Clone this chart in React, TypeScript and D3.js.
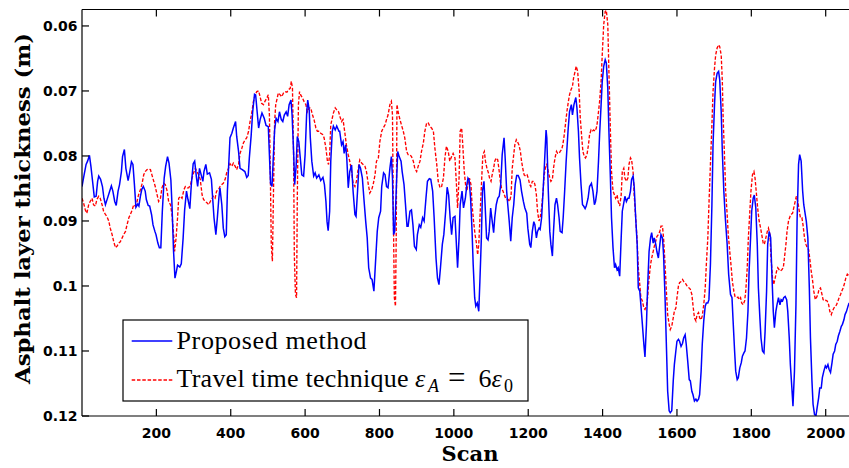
import React from 'react';
import * as d3 from 'd3';

const xTicks = [200, 400, 600, 800, 1000, 1200, 1400, 1600, 1800, 2000];
const yTicks = [0.06, 0.07, 0.08, 0.09, 0.1, 0.11, 0.12];
const yTickLabels = ['0.06', '0.07', '0.08', '0.09', '0.1', '0.11', '0.12'];
const seriesNames = ['Proposed method', 'Travel time technique'];

// [scan, thickness (m)]
const proposed: [number, number][] = [
[0,.0847],[5,.0831],[11,.0813],[15,.0808],[20,.0799],[24,.0816],[29,.0842],[33,.0863],[38,.0862],[42,.0839],[45,.0831],[50,.0836],[55,.0847],[59,.0865],[63,.0875],[68,.0866],[74,.0855],[79,.0846],[83,.0854],[88,.0870],[92,.0876],[97,.0854],[101,.0844],[106,.0824],[109,.0801],[114,.0790],[118,.0819],[124,.0838],[128,.0826],[133,.0809],[137,.0813],[141,.0844],[145,.0879],[150,.0874],[153,.0877],[157,.0862],[161,.0851],[165,.0847],[170,.0854],[173,.0867],[178,.0876],[182,.0877],[187,.0890],[191,.0906],[196,.0916],[199,.0921],[204,.0934],[208,.0941],[212,.0941],[216,.0885],[221,.0834],[225,.0816],[230,.0801],[234,.0811],[239,.0837],[242,.0875],[246,.0944],[250,.0988],[254,.0977],[257,.0968],[263,.0971],[267,.0966],[272,.0926],[276,.0883],[281,.0854],[285,.0867],[290,.0881],[294,.0844],[299,.0812],[303,.0808],[308,.0834],[311,.0847],[316,.0819],[320,.0828],[325,.0839],[328,.0824],[333,.0813],[337,.0828],[343,.0826],[348,.0836],[352,.0870],[355,.0895],[360,.0921],[364,.0895],[368,.0865],[371,.0849],[376,.0875],[380,.0911],[384,.0924],[388,.0921],[391,.0854],[395,.0808],[398,.0772],[403,.0765],[407,.0757],[413,.0747],[416,.0770],[421,.0793],[425,.0819],[431,.0821],[438,.0824],[443,.0833],[447,.0830],[450,.0803],[455,.0768],[459,.0732],[464,.0705],[467,.0706],[471,.0732],[475,.0757],[479,.0744],[484,.0734],[490,.0742],[495,.0753],[501,.0755],[504,.0798],[507,.0842],[511,.0847],[514,.0808],[518,.0760],[522,.0742],[527,.0747],[531,.0732],[536,.0744],[540,.0747],[544,.0737],[549,.0732],[553,.0739],[557,.0721],[562,.0714],[565,.0737],[569,.0793],[572,.0844],[576,.0814],[579,.0770],[583,.0778],[587,.0803],[591,.0829],[596,.0831],[600,.0798],[604,.0737],[607,.0714],[611,.0729],[614,.0772],[618,.0808],[623,.0831],[627,.0826],[631,.0834],[637,.0829],[642,.0838],[648,.0833],[652,.0844],[656,.0870],[659,.0901],[662,.0915],[666,.0885],[669,.0808],[673,.0762],[676,.0754],[681,.0760],[685,.0754],[691,.0762],[693,.0762],[698,.0783],[702,.0778],[705,.0796],[709,.0783],[712,.0803],[716,.0849],[720,.0824],[725,.0814],[729,.0854],[734,.0890],[737,.0893],[741,.0854],[745,.0813],[749,.0819],[754,.0834],[758,.0865],[763,.0901],[767,.0926],[771,.0972],[776,.0988],[780,.0990],[785,.1008],[789,.0967],[794,.0916],[798,.0895],[803,.0885],[806,.0847],[811,.0826],[815,.0829],[819,.0847],[823,.0849],[828,.0819],[832,.0801],[835,.0834],[838,.0921],[841,.0916],[845,.0854],[849,.0793],[853,.0801],[858,.0808],[861,.0824],[866,.0844],[870,.0875],[874,.0908],[877,.0908],[882,.0885],[886,.0883],[890,.0906],[894,.0939],[899,.0944],[902,.0921],[907,.0906],[911,.0910],[916,.0895],[920,.0900],[925,.0865],[929,.0839],[934,.0835],[938,.0836],[943,.0854],[947,.0895],[952,.0957],[956,.0988],[960,.0998],[964,.0972],[969,.0936],[973,.0921],[978,.0885],[982,.0848],[986,.0860],[990,.0895],[994,.0921],[998,.0895],[1003,.0893],[1006,.0926],[1010,.0972],[1014,.0926],[1017,.0875],[1022,.0854],[1026,.0880],[1031,.0865],[1035,.0844],[1038,.0834],[1041,.0837],[1045,.0865],[1049,.0916],[1052,.0967],[1056,.1018],[1059,.1031],[1063,.1026],[1067,.1039],[1070,.0993],[1074,.0926],[1077,.0854],[1081,.0839],[1084,.0875],[1088,.0926],[1092,.0929],[1095,.0916],[1099,.0880],[1102,.0895],[1107,.0918],[1110,.0895],[1114,.0875],[1118,.0865],[1122,.0862],[1126,.0844],[1130,.0798],[1135,.0772],[1138,.0803],[1142,.0854],[1145,.0875],[1149,.0901],[1153,.0931],[1157,.0895],[1161,.0875],[1165,.0844],[1169,.0830],[1173,.0830],[1178,.0837],[1182,.0854],[1187,.0870],[1191,.0880],[1196,.0888],[1199,.0911],[1204,.0936],[1207,.0941],[1211,.0916],[1215,.0901],[1218,.0906],[1222,.0926],[1225,.0916],[1229,.0911],[1232,.0913],[1236,.0895],[1240,.0854],[1244,.0808],[1248,.0760],[1250,.0772],[1254,.0854],[1258,.0916],[1261,.0936],[1265,.0954],[1268,.0916],[1272,.0875],[1276,.0865],[1279,.0875],[1283,.0895],[1286,.0916],[1291,.0918],[1294,.0895],[1298,.0854],[1302,.0808],[1307,.0762],[1311,.0732],[1316,.0721],[1319,.0737],[1323,.0721],[1328,.0710],[1331,.0726],[1335,.0762],[1338,.0803],[1342,.0844],[1346,.0875],[1349,.0877],[1353,.0881],[1356,.0877],[1361,.0865],[1365,.0847],[1370,.0842],[1374,.0854],[1378,.0875],[1381,.0870],[1385,.0854],[1389,.0808],[1392,.0767],[1396,.0721],[1399,.0686],[1403,.0662],[1407,.0652],[1410,.0657],[1414,.0696],[1417,.0762],[1421,.0834],[1424,.0895],[1428,.0941],[1432,.0972],[1435,.0967],[1439,.0975],[1442,.0972],[1446,.0985],[1450,.0926],[1453,.0885],[1457,.0872],[1460,.0862],[1464,.0870],[1468,.0865],[1471,.0865],[1475,.0854],[1478,.0836],[1482,.0831],[1485,.0847],[1489,.0895],[1493,.0936],[1496,.1003],[1500,.1008],[1503,.1029],[1507,.1059],[1511,.1090],[1514,.1109],[1518,.1059],[1521,.1003],[1525,.0947],[1529,.0926],[1532,.0918],[1536,.0934],[1539,.0926],[1543,.0936],[1546,.0947],[1550,.0957],[1554,.0936],[1557,.0921],[1561,.0926],[1564,.0952],[1568,.1018],[1572,.1100],[1575,.1162],[1579,.1192],[1582,.1195],[1586,.1192],[1590,.1146],[1593,.1121],[1597,.1100],[1600,.1085],[1604,.1082],[1607,.1085],[1611,.1093],[1615,.1088],[1618,.1080],[1622,.1075],[1625,.1090],[1629,.1116],[1633,.1144],[1636,.1146],[1640,.1162],[1643,.1167],[1647,.1177],[1651,.1174],[1654,.1177],[1658,.1174],[1661,.1167],[1665,.1131],[1668,.1090],[1672,.1054],[1676,.1031],[1679,.1026],[1683,.1026],[1686,.1021],[1690,.0967],[1694,.0875],[1697,.0783],[1701,.0721],[1704,.0686],[1708,.0673],[1712,.0670],[1715,.0683],[1719,.0732],[1722,.0793],[1726,.0854],[1730,.0895],[1735,.0936],[1739,.0982],[1744,.1013],[1748,.1018],[1751,.1054],[1755,.1100],[1758,.1131],[1762,.1144],[1765,.1141],[1769,.1126],[1773,.1118],[1776,.1108],[1780,.1103],[1783,.1100],[1787,.1080],[1791,.1039],[1794,.0977],[1798,.0926],[1801,.0885],[1805,.0865],[1808,.0860],[1812,.0880],[1816,.0936],[1819,.1003],[1823,.1049],[1826,.1080],[1830,.1100],[1834,.1103],[1837,.1070],[1841,.1008],[1844,.0936],[1848,.0916],[1852,.0926],[1855,.0977],[1859,.1039],[1862,.1064],[1866,.1039],[1869,.1029],[1873,.1018],[1877,.1029],[1880,.1021],[1884,.1023],[1887,.1018],[1891,.1016],[1895,.1021],[1898,.1039],[1902,.1080],[1905,.1121],[1909,.1157],[1912,.1185],[1916,.1131],[1920,.1029],[1923,.0901],[1927,.0813],[1930,.0798],[1934,.0808],[1938,.0854],[1941,.0875],[1945,.0890],[1948,.0901],[1952,.0926],[1956,.1003],[1959,.1080],[1963,.1146],[1966,.1182],[1970,.1198],[1974,.1199],[1977,.1187],[1981,.1172],[1984,.1157],[1988,.1157],[1991,.1141],[1995,.1131],[1999,.1123],[2002,.1126],[2006,.1121],[2009,.1128],[2013,.1133],[2017,.1118],[2020,.1105],[2024,.1100],[2027,.1090],[2031,.1085],[2034,.1077],[2038,.1070],[2042,.1062],[2045,.1059],[2049,.1052],[2052,.1044],[2056,.1039],[2060,.1031],[2063,.1026]
];

const travelTime: [number, number][] = [
[0,.0865],[4,.0872],[9,.0883],[13,.0888],[18,.0875],[22,.0870],[27,.0865],[31,.0875],[36,.0877],[40,.0867],[45,.0862],[49,.0865],[54,.0875],[58,.0885],[63,.0890],[67,.0893],[72,.0900],[76,.0911],[81,.0921],[85,.0931],[90,.0941],[94,.0939],[99,.0934],[103,.0932],[108,.0926],[112,.0921],[117,.0916],[121,.0906],[126,.0895],[130,.0890],[135,.0883],[139,.0875],[143,.0877],[148,.0870],[152,.0860],[157,.0852],[161,.0844],[166,.0829],[170,.0824],[175,.0821],[179,.0820],[184,.0821],[188,.0829],[193,.0839],[197,.0847],[202,.0860],[206,.0870],[211,.0865],[215,.0849],[220,.0842],[224,.0844],[229,.0854],[233,.0870],[238,.0875],[242,.0890],[247,.0926],[249,.0947],[253,.0926],[257,.0895],[260,.0865],[265,.0862],[269,.0865],[274,.0852],[278,.0847],[283,.0849],[287,.0849],[292,.0844],[296,.0834],[300,.0826],[305,.0819],[309,.0824],[314,.0829],[318,.0836],[323,.0860],[327,.0867],[332,.0870],[336,.0872],[341,.0875],[345,.0870],[350,.0865],[353,.0862],[358,.0865],[362,.0854],[367,.0852],[371,.0847],[376,.0844],[380,.0842],[385,.0836],[389,.0826],[394,.0819],[398,.0812],[403,.0816],[407,.0811],[412,.0816],[416,.0821],[421,.0813],[425,.0796],[430,.0788],[434,.0780],[439,.0775],[443,.0772],[448,.0762],[452,.0747],[457,.0732],[461,.0716],[466,.0706],[470,.0701],[475,.0700],[479,.0709],[483,.0719],[488,.0721],[492,.0716],[497,.0711],[501,.0706],[504,.0737],[507,.0849],[509,.0936],[512,.0962],[515,.0854],[518,.0747],[521,.0721],[525,.0711],[528,.0703],[533,.0706],[537,.0709],[542,.0703],[546,.0701],[551,.0702],[555,.0698],[560,.0696],[563,.0685],[566,.0696],[569,.0798],[571,.0952],[574,.1013],[577,.1018],[579,.0865],[582,.0721],[585,.0701],[588,.0706],[593,.0711],[597,.0716],[602,.0721],[606,.0732],[611,.0726],[615,.0726],[620,.0737],[624,.0744],[629,.0757],[633,.0762],[638,.0762],[642,.0765],[647,.0767],[651,.0772],[656,.0788],[660,.0808],[663,.0813],[666,.0798],[669,.0752],[673,.0742],[676,.0734],[681,.0726],[685,.0729],[690,.0732],[694,.0740],[698,.0747],[702,.0744],[707,.0765],[711,.0783],[716,.0798],[720,.0808],[725,.0824],[729,.0842],[734,.0847],[738,.0839],[743,.0819],[747,.0806],[752,.0811],[756,.0813],[761,.0816],[765,.0824],[770,.0844],[774,.0857],[779,.0852],[783,.0844],[788,.0829],[792,.0808],[797,.0803],[801,.0778],[806,.0762],[810,.0757],[815,.0752],[819,.0744],[823,.0737],[828,.0721],[832,.0716],[835,.0737],[837,.0875],[840,.1018],[843,.1031],[845,.0926],[847,.0721],[850,.0732],[855,.0744],[859,.0752],[864,.0762],[868,.0772],[873,.0793],[877,.0798],[882,.0798],[886,.0801],[891,.0808],[895,.0819],[900,.0824],[904,.0816],[909,.0808],[913,.0793],[918,.0780],[922,.0762],[927,.0749],[931,.0749],[936,.0755],[940,.0757],[945,.0762],[949,.0788],[954,.0813],[958,.0839],[963,.0849],[967,.0847],[972,.0834],[976,.0803],[980,.0785],[985,.0793],[989,.0808],[994,.0801],[998,.0796],[1003,.0803],[1007,.0844],[1010,.0880],[1014,.0834],[1017,.0762],[1021,.0757],[1024,.0783],[1028,.0824],[1032,.0847],[1035,.0854],[1038,.0842],[1042,.0834],[1046,.0844],[1049,.0875],[1053,.0900],[1057,.0921],[1060,.0931],[1064,.0952],[1067,.0936],[1071,.0885],[1075,.0834],[1078,.0798],[1082,.0793],[1085,.0808],[1089,.0819],[1093,.0826],[1096,.0834],[1100,.0839],[1103,.0829],[1107,.0819],[1110,.0808],[1114,.0803],[1118,.0806],[1121,.0819],[1125,.0839],[1128,.0849],[1132,.0854],[1136,.0860],[1139,.0865],[1143,.0867],[1146,.0867],[1150,.0870],[1154,.0860],[1157,.0819],[1161,.0798],[1164,.0783],[1168,.0775],[1171,.0778],[1175,.0783],[1179,.0793],[1182,.0808],[1186,.0821],[1189,.0829],[1193,.0831],[1197,.0829],[1200,.0834],[1204,.0844],[1207,.0847],[1211,.0839],[1215,.0839],[1218,.0844],[1222,.0860],[1225,.0885],[1229,.0900],[1232,.0895],[1236,.0880],[1240,.0854],[1243,.0829],[1247,.0816],[1250,.0813],[1254,.0824],[1258,.0834],[1261,.0839],[1265,.0836],[1268,.0819],[1272,.0803],[1276,.0793],[1279,.0796],[1283,.0796],[1286,.0793],[1290,.0790],[1293,.0783],[1297,.0767],[1301,.0747],[1304,.0732],[1308,.0716],[1311,.0706],[1315,.0698],[1319,.0693],[1322,.0680],[1326,.0670],[1329,.0662],[1333,.0670],[1337,.0701],[1340,.0742],[1344,.0772],[1347,.0793],[1351,.0801],[1354,.0803],[1358,.0798],[1362,.0783],[1365,.0767],[1369,.0760],[1372,.0762],[1376,.0760],[1380,.0762],[1383,.0757],[1385,.0752],[1389,.0732],[1392,.0716],[1396,.0685],[1399,.0645],[1403,.0598],[1407,.0578],[1410,.0576],[1414,.0598],[1417,.0670],[1421,.0762],[1424,.0824],[1428,.0854],[1432,.0860],[1435,.0865],[1439,.0860],[1442,.0870],[1446,.0877],[1450,.0860],[1453,.0824],[1457,.0819],[1460,.0834],[1464,.0839],[1468,.0834],[1471,.0813],[1475,.0803],[1478,.0806],[1482,.0824],[1485,.0860],[1489,.0895],[1493,.0931],[1496,.0972],[1500,.0998],[1503,.1018],[1507,.1023],[1511,.1034],[1514,.1036],[1518,.1031],[1521,.1018],[1525,.0988],[1529,.0967],[1532,.0957],[1536,.0947],[1539,.0939],[1543,.0931],[1546,.0924],[1550,.0921],[1554,.0916],[1557,.0908],[1561,.0908],[1564,.0926],[1568,.0967],[1572,.1013],[1575,.1044],[1579,.1059],[1582,.1067],[1586,.1062],[1590,.1049],[1593,.1039],[1597,.1034],[1600,.1018],[1604,.1000],[1607,.0995],[1611,.0993],[1615,.0990],[1618,.0993],[1622,.0995],[1625,.0998],[1629,.1002],[1633,.1003],[1636,.1005],[1640,.1013],[1643,.1029],[1647,.1049],[1651,.1054],[1654,.1044],[1658,.1041],[1661,.1049],[1665,.1052],[1668,.1046],[1672,.1029],[1676,.1003],[1679,.0967],[1683,.0926],[1686,.0875],[1690,.0813],[1694,.0752],[1697,.0701],[1701,.0665],[1704,.0645],[1708,.0634],[1712,.0629],[1715,.0632],[1719,.0645],[1722,.0685],[1724,.0737],[1728,.0803],[1731,.0854],[1735,.0890],[1738,.0921],[1742,.0947],[1746,.0972],[1749,.0993],[1753,.1008],[1756,.1016],[1760,.1018],[1764,.1017],[1767,.1021],[1771,.1018],[1774,.1026],[1778,.1029],[1782,.1023],[1785,.1008],[1789,.0972],[1792,.0926],[1796,.0885],[1799,.0854],[1803,.0829],[1807,.0824],[1810,.0834],[1814,.0860],[1817,.0880],[1821,.0900],[1825,.0911],[1828,.0921],[1832,.0934],[1835,.0936],[1839,.0926],[1843,.0916],[1846,.0911],[1850,.0921],[1853,.0957],[1857,.0988],[1860,.0998],[1864,.0988],[1868,.0977],[1871,.0972],[1875,.0975],[1878,.0977],[1882,.0975],[1886,.0972],[1889,.0957],[1893,.0936],[1896,.0916],[1900,.0900],[1904,.0893],[1907,.0890],[1911,.0888],[1914,.0880],[1918,.0870],[1921,.0862],[1925,.0870],[1929,.0885],[1932,.0895],[1936,.0895],[1939,.0906],[1943,.0926],[1947,.0936],[1950,.0941],[1954,.0944],[1957,.0957],[1961,.0977],[1965,.0993],[1968,.1008],[1972,.1021],[1975,.1018],[1979,.1013],[1982,.1005],[1986,.1003],[1990,.1013],[1993,.1021],[1997,.1023],[2000,.1022],[2004,.1023],[2008,.1029],[2011,.1039],[2015,.1044],[2018,.1039],[2022,.1034],[2026,.1031],[2029,.1029],[2033,.1023],[2036,.1018],[2040,.1013],[2043,.1008],[2047,.1003],[2051,.0995],[2054,.0988],[2058,.0982],[2061,.0985],[2064,.0982]
];

const W = 849;
const H = 468;
const PLOT_LEFT = 82;
const PLOT_TOP = 9.5;
const PLOT_BOTTOM = 416;
const X_MAX = 2070;

const x = d3.scaleLinear().domain([0, X_MAX]).range([PLOT_LEFT, PLOT_LEFT + X_MAX * 0.37185]);
const y = d3.scaleLinear().domain([0.0575, 0.12]).range([9.7, PLOT_BOTTOM]);

const line = d3
  .line<[number, number]>()
  .x((d) => x(d[0]))
  .y((d) => y(d[1]));

const TICK_FONT = "'DejaVu Sans', sans-serif";
const LABEL_FONT = "'DejaVu Serif', serif";
const LEGEND_FONT = "'Liberation Serif', 'Times New Roman', serif";
const RED_DASH = '3.5,1.8';

export default function App() {
  const plotRight = x(X_MAX);
  return (
    <svg
      width={W}
      height={H}
      viewBox={`0 0 ${W} ${H}`}
      style={{ position: 'absolute', left: 0, top: 0, background: '#fff' }}
    >
      <rect x={0} y={0} width={W} height={H} fill="#fff" />
      <defs>
        <clipPath id="plotClip">
          <rect x={PLOT_LEFT} y={PLOT_TOP} width={plotRight - PLOT_LEFT} height={PLOT_BOTTOM - PLOT_TOP} />
        </clipPath>
      </defs>

      <g clipPath="url(#plotClip)">
        <path d={line(travelTime) || ''} fill="none" stroke="#ff0000" strokeWidth={1.35} strokeDasharray={RED_DASH} />
        <path d={line(proposed) || ''} fill="none" stroke="#0000ff" strokeWidth={1.5} />
      </g>

      {/* axes frame */}
      <g stroke="#000" strokeWidth={1.2} fill="none">
        <line x1={PLOT_LEFT} x2={plotRight} y1={PLOT_BOTTOM} y2={PLOT_BOTTOM} />
        <line x1={PLOT_LEFT} x2={plotRight} y1={PLOT_TOP} y2={PLOT_TOP} />
        <line x1={PLOT_LEFT} x2={PLOT_LEFT} y1={PLOT_TOP} y2={PLOT_BOTTOM} />
        {xTicks.map((t) => (
          <g key={'xt' + t}>
            <line x1={x(t)} x2={x(t)} y1={PLOT_BOTTOM} y2={PLOT_BOTTOM - 7} />
            <line x1={x(t)} x2={x(t)} y1={PLOT_TOP} y2={PLOT_TOP + 7} />
          </g>
        ))}
        {yTicks.map((t) => (
          <line key={'yt' + t} x1={PLOT_LEFT} x2={PLOT_LEFT + 7} y1={y(t)} y2={y(t)} />
        ))}
      </g>

      {xTicks.map((t) => (
        <text
          key={'xl' + t}
          x={x(t)}
          y={438}
          textAnchor="middle"
          fontFamily={TICK_FONT}
          fontWeight="bold"
          fontSize={14}
          fill="#000"
        >
          {t}
        </text>
      ))}
      {yTicks.map((t, i) => (
        <text
          key={'yl' + t}
          x={77.5}
          y={y(t) + 5}
          textAnchor="end"
          fontFamily={TICK_FONT}
          fontWeight="bold"
          fontSize={14}
          fill="#000"
        >
          {yTickLabels[i]}
        </text>
      ))}

      <text x={470} y={461} textAnchor="middle" fontFamily={LABEL_FONT} fontWeight="bold" fontSize={21} fill="#000">
        Scan
      </text>
      <text
        transform="translate(30,208.5) rotate(-90)"
        textAnchor="middle"
        fontFamily={LABEL_FONT}
        fontWeight="bold"
        fontSize={21}
        fill="#000"
        textLength={351}
        lengthAdjust="spacingAndGlyphs"
      >
        Asphalt layer thickness (m)
      </text>

      {/* legend */}
      <g>
        <rect x={123} y={320} width={405} height={81} fill="#fff" stroke="#000" strokeWidth={1.2} />
        <line x1={131.7} x2={172.3} y1={341} y2={341} stroke="#0000ff" strokeWidth={1.5} />
        <line x1={131.7} x2={172.3} y1={380} y2={380} stroke="#ff0000" strokeWidth={1.35} strokeDasharray={RED_DASH} />
        <text x={176.5} y={348.5} fontFamily={LEGEND_FONT} fontSize={26} fill="#000" textLength={190} lengthAdjust="spacing">
          {seriesNames[0]}
        </text>
        <text x={176.5} y={386.5} fontFamily={LEGEND_FONT} fontSize={26} fill="#000" textLength={232} lengthAdjust="spacing">
          {seriesNames[1]}
        </text>
        <text x={415} y={386.5} fontFamily={LEGEND_FONT} fontSize={26} fontStyle="italic" fill="#000">ε</text>
        <text x={428} y={392} fontFamily={LEGEND_FONT} fontSize={18} fontStyle="italic" fill="#000">A</text>
        <text x={448} y={387.5} fontFamily={LEGEND_FONT} fontSize={31} fill="#000">=</text>
        <text x={478.5} y={386.5} fontFamily={LEGEND_FONT} fontSize={26} fill="#000">6</text>
        <text x={491.5} y={386.5} fontFamily={LEGEND_FONT} fontSize={26} fontStyle="italic" fill="#000">ε</text>
        <text x={504} y={392} fontFamily={LEGEND_FONT} fontSize={18} fill="#000">0</text>
      </g>
    </svg>
  );
}
